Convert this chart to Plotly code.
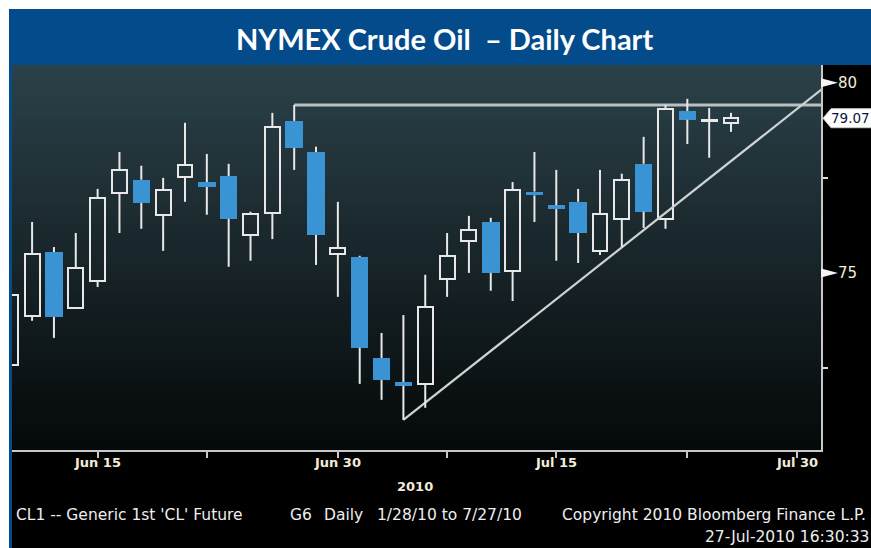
import plotly.graph_objects as go

# ---------------- data ----------------
dates = ["Jun 9", "Jun 10", "Jun 11", "Jun 14", "Jun 15", "Jun 16", "Jun 17", "Jun 18",
         "Jun 21", "Jun 22", "Jun 23", "Jun 24", "Jun 25", "Jun 28", "Jun 29", "Jun 30",
         "Jul 1", "Jul 2", "Jul 6", "Jul 7", "Jul 8", "Jul 9", "Jul 12", "Jul 13",
         "Jul 14", "Jul 15", "Jul 16", "Jul 19", "Jul 20", "Jul 21", "Jul 22", "Jul 23",
         "Jul 26", "Jul 27"]
opens = [72.58, 73.87, 75.55, 74.08, 74.79, 77.11, 77.45, 76.53, 77.53, 77.39, 77.55, 76.00,
         76.58, 79.00, 78.18, 75.50, 75.42, 72.76, 72.13, 72.08, 74.84, 75.84, 76.34, 75.05,
         77.14, 76.78, 76.87, 75.58, 76.42, 77.87, 76.42, 79.26, 79.00, 78.95]
closes = [74.42, 75.50, 73.84, 75.13, 76.97, 77.71, 76.84, 77.18, 77.84, 77.26, 76.42, 76.55,
          78.84, 78.29, 76.00, 75.66, 73.03, 72.18, 72.03, 74.11, 75.45, 76.13, 75.00, 77.18,
          77.04, 76.68, 76.05, 76.55, 77.45, 76.61, 79.32, 79.03, 79.02, 79.07]
highs = [74.50, 76.34, 75.68, 76.05, 77.21, 78.18, 77.82, 77.50, 78.95, 78.13, 77.87, 76.61,
         79.21, 79.42, 78.32, 76.87, 75.45, 73.42, 73.89, 74.95, 76.05, 76.50, 76.45, 77.39,
         78.18, 77.71, 77.21, 77.71, 77.61, 78.58, 79.42, 79.58, 79.34, 79.21]
lows = [72.40, 73.74, 73.29, 74.08, 74.63, 76.05, 76.16, 75.58, 76.87, 76.53, 75.16, 75.32,
        75.89, 77.71, 75.21, 74.37, 72.08, 71.66, 71.13, 71.45, 74.37, 75.00, 74.53, 74.26,
        76.34, 75.32, 75.26, 75.47, 75.68, 76.18, 76.16, 78.39, 78.03, 78.71]

x_tick_idx = [4, 15, 25, 36]
x_tick_text = ["Jun 15", "Jun 30", "Jul 15", "Jul 30"]
x_minor_idx = [9, 20, 31]
y_tick_vals = [72.5, 75, 77.5, 80]
y_tick_text = ["", "75", "", "80"]
y_major = [75, 80]

trend_x = [18, 37.2]
trend_y = [71.13, 79.85]
resist_x = [13, 37.2]
resist_y = [79.42, 79.42]
last_price = closes[-1]

title_text = "NYMEX Crude Oil  \u2013 Daily Chart"
footer_parts = ["CL1 -- Generic 1st 'CL' Future", "G6", "Daily", "1/28/10 to 7/27/10",
                "Copyright 2010 Bloomberg Finance L.P."]
footer_x = [14, 288, 322, 375, 560]
footer2 = "27-Jul-2010 16:30:33"
year_label = "2010"

# ---------------- styling ----------------
W, H = 871, 548
PL, PR, PT, PB = 12, 821, 65, 450   # plot area pixel bounds
X_RANGE = [0.08, 37.12]
Y_RANGE = [70.34, 80.47]
BLUE = "#3a94d4"
WHITE = "#e8e8e8"
TXT = "#f2ecd8"
FONT = "DejaVu Sans"

def xp(px):
    return (px - PL) / (PR - PL)

def yp(py):
    return (PB - py) / (PB - PT)

idx = list(range(len(opens)))
up = [c >= o for o, c in zip(opens, closes)]

# wicks
wx, wy = [], []
for k, o, c, h, l in zip(idx, opens, closes, highs, lows):
    top, bot = max(o, c), min(o, c)
    wx += [k, k, None, k, k, None]
    wy += [h, top, None, bot, l, None]

fig = go.Figure()
fig.add_trace(go.Scatter(x=resist_x, y=resist_y, mode="lines",
                         line=dict(color="#b9c2c3", width=3), hoverinfo="skip"))
fig.add_trace(go.Scatter(x=trend_x, y=trend_y, mode="lines",
                         line=dict(color="#cfd2d2", width=2.2), hoverinfo="skip"))
fig.add_trace(go.Scatter(x=wx, y=wy, mode="lines", line=dict(color=WHITE, width=2),
                         hoverinfo="skip", connectgaps=False))
ux = [k for k in idx if up[k]]
fig.add_trace(go.Bar(x=ux, base=[opens[k] for k in ux],
                     y=[closes[k] - opens[k] for k in ux], width=0.68,
                     marker=dict(color="rgba(0,0,0,0)", line=dict(color=WHITE, width=2))))
dx = [k for k in idx if not up[k]]
fig.add_trace(go.Bar(x=dx, base=[closes[k] for k in dx],
                     y=[opens[k] - closes[k] for k in dx], width=0.8,
                     marker=dict(color=BLUE, line=dict(width=0))))

shapes = []
# gradient background of plot area
N = 70
c0, c1 = (43, 65, 73), (5, 9, 10)
for i in range(N):
    t = i / (N - 1)
    col = tuple(round(a + (b - a) * t) for a, b in zip(c0, c1))
    shapes.append(dict(type="rect", xref="paper", yref="paper", x0=0, x1=1,
                       y0=1 - (i + 1) / N, y1=1 - i / N + 0.001, layer="below",
                       line=dict(width=0), fillcolor="rgb(%d,%d,%d)" % col))
# page furniture
shapes.append(dict(type="rect", xref="paper", yref="paper", x0=xp(0), x1=xp(W),
                   y0=yp(9), y1=yp(0), line=dict(width=0), fillcolor="white", layer="below"))
shapes.append(dict(type="rect", xref="paper", yref="paper", x0=xp(0), x1=xp(9),
                   y0=yp(H), y1=yp(0), line=dict(width=0), fillcolor="white", layer="below"))
shapes.append(dict(type="rect", xref="paper", yref="paper", x0=xp(9), x1=xp(W),
                   y0=yp(65), y1=yp(9), line=dict(width=0), fillcolor="#034b8b", layer="below"))
shapes.append(dict(type="rect", xref="paper", yref="paper", x0=xp(9), x1=xp(12),
                   y0=yp(H), y1=yp(65), line=dict(width=0), fillcolor="#034b8b", layer="below"))
# tick flags on right axis
upp = (Y_RANGE[1] - Y_RANGE[0]) / (PB - PT)   # value per pixel
for v in y_major:
    shapes.append(dict(type="path", xref="paper", yref="y",
                       path="M %f,%f L %f,%f L %f,%f Z" % (xp(PR), v + 4.5 * upp, xp(PR), v - 4.5 * upp,
                                                           xp(PR + 17), v),
                       fillcolor="#f4f4f4", line=dict(width=0), layer="above"))
# last price label
shapes.append(dict(type="path", xref="paper", yref="y",
                   path="M %f,%f L %f,%f L %f,%f L %f,%f L %f,%f Z" % (
                       xp(PR + 2), last_price, xp(PR + 10), last_price + 9.5 * upp,
                       xp(W + 5), last_price + 9.5 * upp, xp(W + 5), last_price - 9.5 * upp,
                       xp(PR + 10), last_price - 9.5 * upp),
                   fillcolor="white", line=dict(color="#cccccc", width=1), layer="above"))

annotations = [
    dict(text="<b>%s</b>" % title_text, x=xp(444), y=yp(38), xref="paper", yref="paper",
         showarrow=False, font=dict(family="Lato", size=29, color="white"),
         xanchor="center", yanchor="middle"),
    dict(text="%.2f" % last_price, x=xp(PR + 8), y=last_price, xref="paper", yref="y",
         showarrow=False, font=dict(family=FONT, size=13.5, color="#0b1540"),
         xanchor="left", yanchor="middle"),
    dict(text="<b>%s</b>" % year_label, x=xp(415), y=yp(487), xref="paper", yref="paper",
         showarrow=False, font=dict(family=FONT, size=13, color=TXT),
         xanchor="center", yanchor="middle"),
    dict(text=footer2, x=xp(871), y=yp(537), xref="paper", yref="paper",
         showarrow=False, font=dict(family=FONT, size=15.5, color="#eeeeee"),
         xanchor="right", yanchor="middle"),
]
for txt, px in zip(footer_parts, footer_x):
    annotations.append(dict(text=txt, x=xp(px), y=yp(515), xref="paper", yref="paper",
                            showarrow=False, font=dict(family=FONT, size=15.5, color="#eeeeee"),
                            xanchor="left", yanchor="middle"))
for k, txt in zip(x_tick_idx, x_tick_text):
    annotations.append(dict(text="<b>%s</b>" % txt, x=k, y=yp(463), xref="x", yref="paper",
                            showarrow=False, font=dict(family=FONT, size=13, color=TXT),
                            xanchor="center", yanchor="middle"))

fig.update_layout(
    width=W, height=H,
    margin=dict(l=PL, r=W - PR, t=PT, b=H - PB, pad=0),
    paper_bgcolor="black", plot_bgcolor="rgb(5,9,10)",
    showlegend=False, barmode="overlay", bargap=0,
    shapes=shapes, annotations=annotations,
    xaxis=dict(range=X_RANGE, showgrid=False, zeroline=False, showline=True,
               linecolor="#c8c8c8", linewidth=2, mirror=False,
               tickmode="array", tickvals=x_tick_idx, ticktext=[""] * len(x_tick_idx),
               ticks="outside", ticklen=6, tickwidth=2, tickcolor="#c8c8c8",
               minor=dict(tickvals=x_minor_idx, ticks="outside", ticklen=6,
                          tickwidth=2, tickcolor="#c8c8c8")),
    yaxis=dict(range=Y_RANGE, side="right", showgrid=False, zeroline=False, showline=True,
               linecolor="#c8c8c8", linewidth=2,
               tickmode="array", tickvals=y_tick_vals, ticktext=y_tick_text,
               ticks="outside", ticklen=5, tickwidth=2, tickcolor="#dddddd",
               ticklabelstandoff=7,
               tickfont=dict(family=FONT, size=15, color=TXT)),
)

fig.write_html("out.html", post_script="document.body.style.margin='0';",
               config={"displayModeBar": False})
